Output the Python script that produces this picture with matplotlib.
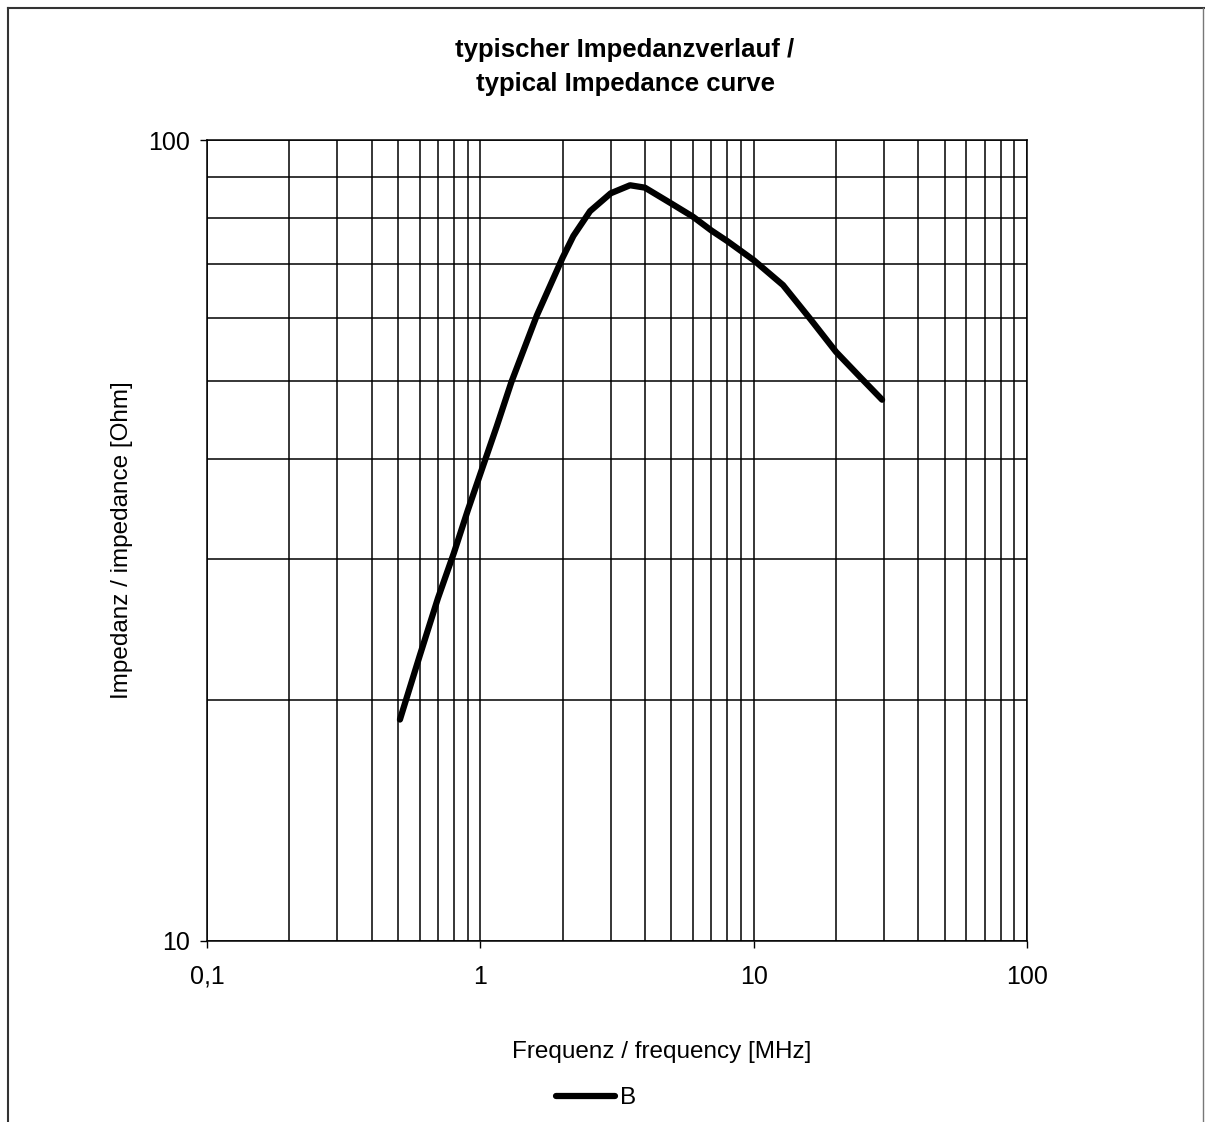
import numpy as np
import matplotlib
matplotlib.use("Agg")
import matplotlib.pyplot as plt
from matplotlib.lines import Line2D
from matplotlib.ticker import LogLocator, NullFormatter

plt.rcParams['font.family'] = ['Liberation Sans', 'DejaVu Sans']

# Werte
freq_mhz = [0.508, 0.6, 0.7, 0.8, 0.9, 1.0, 1.148, 1.30, 1.61, 2.0, 2.19, 2.52,
            3.0, 3.53, 4.0, 5.0, 6.0, 7.0, 8.0, 10.0, 12.8, 16.1, 20.0, 24.5, 29.5]
impedanz = [18.9, 22.7, 26.8, 30.5, 34.5, 38.3, 43.9, 49.9, 60.4, 71.3, 75.9, 81.5,
            85.8, 87.8, 87.2, 83.3, 80.2, 77.1, 74.8, 70.8, 65.9, 59.8, 54.4, 50.6, 47.4]
serie = "B"

x_ticks = [0.1, 1, 10, 100]
x_labels = ["0,1", "1", "10", "100"]
y_ticks = [10, 100]
y_labels = ["10", "100"]

fig = plt.figure(figsize=(12.05, 11.22), dpi=100)
ax = fig.add_axes([207/1205, 1-941/1122, 820/1205, 801/1122])

ax.plot(freq_mhz, impedanz, color="black", linewidth=4.5, solid_capstyle="round",
        solid_joinstyle="round", label=serie)

ax.set_xscale("log")
ax.set_yscale("log")
ax.set_xlim(0.1, 100)
ax.set_ylim(10, 100)

ax.set_xticks(x_ticks)
ax.set_xticklabels(x_labels)
ax.set_yticks(y_ticks)
ax.set_yticklabels(y_labels)
ax.xaxis.set_minor_locator(LogLocator(base=10, subs=np.arange(2, 10)))
ax.yaxis.set_minor_locator(LogLocator(base=10, subs=np.arange(2, 10)))
ax.xaxis.set_minor_formatter(NullFormatter())
ax.yaxis.set_minor_formatter(NullFormatter())
ax.tick_params(which="major", direction="out", length=5, width=1, labelsize=18)
ax.tick_params(axis="x", which="major", pad=12)
ax.tick_params(axis="y", which="major", pad=7)
ax.tick_params(which="minor", length=0)

ax.grid(True, which="both", color="black", linewidth=1.1)
for s in ax.spines.values():
    s.set_linewidth(1.1)

# Achsenbeschriftungen
fig.text(662/1205, 1-1052/1122, "Frequenz / frequency [MHz]", ha="center", va="center", fontsize=17.5)
fig.text(122/1205, 1-540/1122, "Impedanz / impedance [Ohm]", ha="center", va="center",
         rotation=90, fontsize=17.5)

fig.text(625/1205, 1-67/1122, "typischer Impedanzverlauf /\ntypical Impedance curve",
         ha="center", va="center", fontsize=18.5, fontweight="bold", linespacing=1.5)

fig.legend(loc="center", bbox_to_anchor=(596/1205, 1-1098/1122), frameon=False,
           fontsize=17.5, handlelength=2.4, handletextpad=0.2)

# Rahmen
fig.add_artist(Line2D([8/1205, 8/1205], [0, 1-8/1122], color="#333333", linewidth=1.5))
fig.add_artist(Line2D([8/1205, 1], [1-8/1122, 1-8/1122], color="#333333", linewidth=1.5))
fig.add_artist(Line2D([1203/1205, 1203/1205], [0, 1-8/1122], color="#777777", linewidth=1.0))

fig.savefig("out.png", dpi=100)
